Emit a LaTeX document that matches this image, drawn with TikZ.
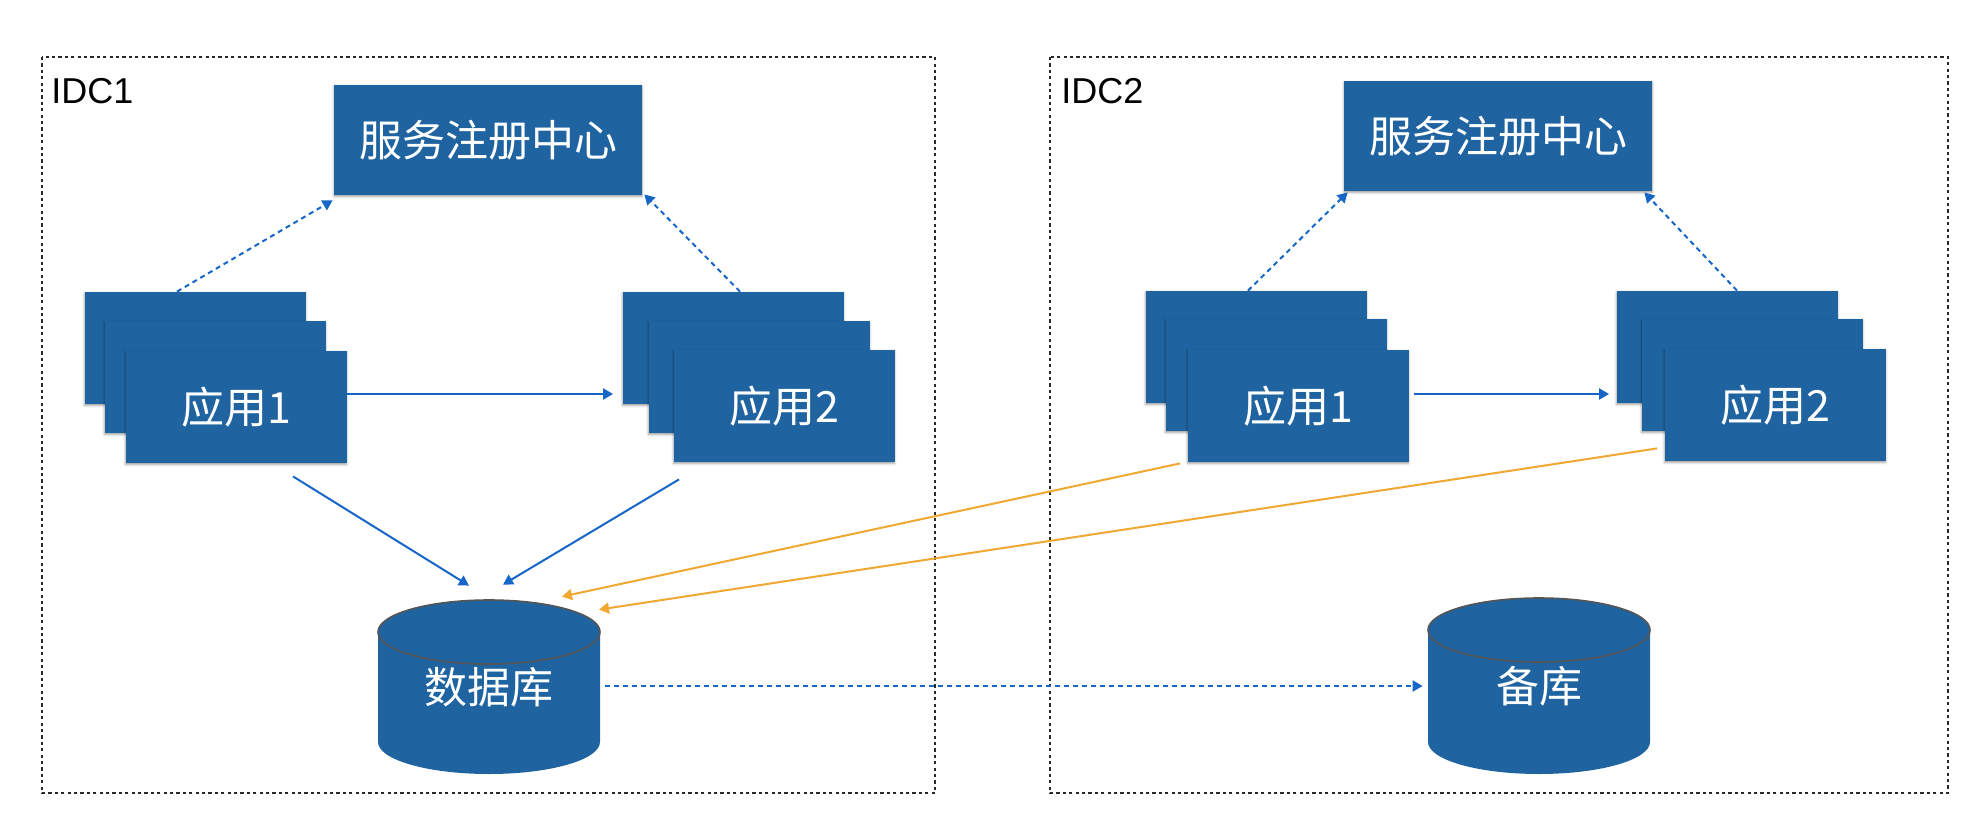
\documentclass[tikz,border=0pt]{standalone}
\usepackage{fontspec}
\setmainfont{Liberation Sans}
\newfontfamily\cjk{Noto Sans CJK SC}
\usetikzlibrary{arrows.meta,calc,shadows.blur}
\definecolor{boxblue}{RGB}{31,100,160}
\definecolor{arrblue}{RGB}{22,102,200}
\definecolor{arrorange}{RGB}{240,168,50}
\definecolor{rim}{RGB}{85,85,85}
\definecolor{frame}{RGB}{40,40,40}
\begin{document}
\begin{tikzpicture}[x=0.5pt,y=-0.5pt,
  boxtext/.style={text=white,font=\cjk\fontsize{21.5pt}{26pt}\selectfont},
  boxshade/.style={blur shadow={shadow xshift=0pt,shadow yshift=-0.7pt,shadow blur radius=1.2pt,shadow opacity=40}},
  appbox/.style={boxtext,boxshade,fill=boxblue,minimum width=110.5pt,minimum height=56pt,inner sep=0pt},
  regbox/.style={boxtext,boxshade,fill=boxblue,minimum width=154pt,minimum height=55pt,inner sep=0pt},
  dbnode/.style={boxtext,minimum width=111pt,minimum height=88pt,inner sep=0pt},
  cylfill/.style={fill=boxblue},
  cyltop/.style={fill=boxblue,draw=rim,line width=0.8pt},
  idcframe/.style={draw=frame,line width=0.75pt,dash pattern=on 1.6pt off 1.6pt},
  idclabel/.style={font=\fontsize{18pt}{20pt}\selectfont,anchor=base west,inner sep=0pt,text=black},
  flow/.style={draw=arrblue,line width=1pt,-{Triangle[length=5pt,width=5.5pt]}},
  regflow/.style={flow,dash pattern=on 2.5pt off 2pt},
  cross/.style={draw=arrorange,line width=1pt,-{Triangle[length=5pt,width=5.5pt]}}
]
\useasboundingbox (0,0) rectangle (1987,831);

% IDC frames
\draw[idcframe] (42,57) rectangle (935,793);
\draw[idcframe] (1050,57) rectangle (1948,793);
\node[idclabel] (l1) at (51,103) {IDC1};
\node[idclabel] (l2) at (1061,103) {IDC2};

% registries
\node[regbox] (r1) at (488,140) {服务注册中心};
\node[regbox] (r2) at (1498,136) {服务注册中心};

% IDC1 apps
\node[appbox] (a1b) at (195,348) {};
\node[appbox] (a1m) at (215,377) {};
\node[appbox] (a1) at (236,407) {应用1};
\node[appbox] (a2b) at (733,348) {};
\node[appbox] (a2m) at (759,377) {};
\node[appbox] (a2) at (784,406) {应用2};

% IDC2 apps
\node[appbox] (b1b) at (1256,347) {};
\node[appbox] (b1m) at (1276,375) {};
\node[appbox] (b1) at (1298,406) {应用1};
\node[appbox] (b2b) at (1727,347) {};
\node[appbox] (b2m) at (1752,375) {};
\node[appbox] (b2) at (1775,405) {应用2};

% database cylinders
\fill[cylfill] (378,632) -- (378,742) arc[start angle=180,end angle=0,x radius=111,y radius=32] -- (600,632) -- cycle;
\filldraw[cyltop] (489,632) ellipse[x radius=111,y radius=32];
\node[dbnode] (db) at (489,687) {数据库};

\fill[cylfill] (1428,630) -- (1428,742) arc[start angle=180,end angle=0,x radius=111,y radius=32] -- (1650,630) -- cycle;
\filldraw[cyltop] (1539,630) ellipse[x radius=111,y radius=32];
\node[dbnode] (bk) at (1539,686) {备库};

% registration (dotted)
\draw[regflow] ($(a1b.north)+(-18,0)$) -- ($(r1.south west)+(-1,5)$);
\draw[regflow] ($(a2b.north)+(7,0)$) -- ($(r1.south east)+(2,-1)$);
\draw[regflow] ($(b1b.north)+(-8,0)$) -- ($(r2.south west)+(4,1)$);
\draw[regflow] ($(b2b.north)+(10,0)$) -- ($(r2.south east)+(-8,1)$);

% app1 -> app2
\draw[flow] ($(a1.east)+(0,-13)$) -- ($(a2b.west)+(-9,46)$);
\draw[flow] ($(b1.east)+(5,-12)$) -- ($(b2b.west)+(-7,47)$);

% apps -> db
\draw[flow] ($(a1.south)+(57,13)$) -- ($(db.north)+(-20,-13)$);
\draw[flow] ($(a2.south)+(-105,17)$) -- ($(db.north)+(14,-14)$);

% cross-IDC (orange)
\draw[cross] ($(b1.south west)+(-7,1)$) -- ($(db.north)+(73,-2)$);
\draw[cross] ($(b2.south west)+(-7,-13)$) -- ($(db.north)+(110,11)$);

% replication
\draw[regflow] ($(db.east)+(5,-1)$) -- ($(bk.west)+(-5,0)$);
\end{tikzpicture}
\end{document}
